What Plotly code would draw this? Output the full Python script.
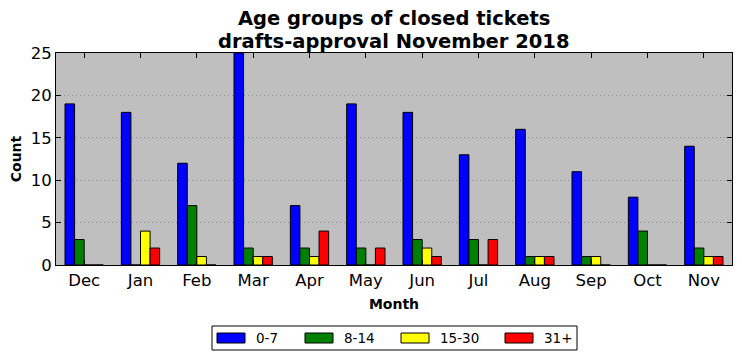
import plotly.graph_objects as go

months = ["Dec", "Jan", "Feb", "Mar", "Apr", "May", "Jun", "Jul", "Aug", "Sep", "Oct", "Nov"]
age_0_7 = [19, 18, 12, 25, 7, 19, 18, 13, 16, 11, 8, 14]
age_8_14 = [3, 0, 7, 2, 2, 2, 3, 3, 1, 1, 4, 2]
age_15_30 = [0, 4, 1, 1, 1, 0, 2, 0, 1, 1, 0, 1]
age_31_plus = [0, 2, 0, 1, 4, 2, 1, 3, 1, 0, 0, 1]

series = [("0-7", age_0_7, "#0000ff"), ("8-14", age_8_14, "#008000"),
          ("15-30", age_15_30, "#ffff00"), ("31+", age_31_plus, "#ff0000")]

font = "DejaVu Sans"
W, H = 742, 361
L, R, T, B = 56, 10, 53, 96
pw, ph = W - L - R, H - T - B

def px(x):
    return (x - L) / pw

def py(y):
    return (H - B - y) / ph

fig = go.Figure()
for name, vals, col in series:
    fig.add_trace(go.Bar(x=months, y=vals, name=name,
                         marker=dict(color=col, line=dict(color="black", width=1))))

shapes = []
annotations = []
# title
annotations.append(dict(text="<b>Age groups of closed tickets</b>", xref="paper", yref="paper",
                        x=0.5 * (px(56) + px(732)), y=py(19), xanchor="center", yanchor="middle",
                        showarrow=False, font=dict(size=19.5, family=font)))
annotations.append(dict(text="<b>drafts-approval November 2018</b>", xref="paper", yref="paper",
                        x=0.5 * (px(56) + px(732)), y=py(41), xanchor="center", yanchor="middle",
                        showarrow=False, font=dict(size=19.5, family=font)))
# custom legend box
shapes.append(dict(type="rect", xref="paper", yref="paper", x0=px(212), x1=px(577),
                   y0=py(350), y1=py(326), line=dict(color="black", width=1), fillcolor="white"))
patch_x = [217, 305, 401, 505]
for (name, vals, col), x0 in zip(series, patch_x):
    shapes.append(dict(type="rect", xref="paper", yref="paper", x0=px(x0), x1=px(x0 + 28),
                       y0=py(343), y1=py(333), line=dict(color="black", width=1), fillcolor=col))
    annotations.append(dict(text=name, xref="paper", yref="paper", x=px(x0 + 37), y=py(338),
                            xanchor="left", yanchor="middle", showarrow=False,
                            font=dict(size=13.5, family=font)))

fig.update_layout(
    width=W, height=H,
    margin=dict(l=L, r=R, t=T, b=B),
    paper_bgcolor="white", plot_bgcolor="#bfbfbf",
    barmode="group", bargap=0.32, bargroupgap=0,
    font=dict(family=font, color="black", size=16),
    showlegend=False,
    shapes=shapes, annotations=annotations,
)
fig.update_xaxes(
    range=[-0.5, 11.5], showline=True, linecolor="black", linewidth=1, mirror="ticks",
    ticks="inside", ticklen=5, tickcolor="black", showgrid=False, automargin=False,
    title=dict(text="<b>Month</b>", font=dict(size=14, family=font), standoff=10),
    tickfont=dict(size=16.5),
)
fig.update_yaxes(
    range=[0, 25], dtick=5, showline=True, linecolor="black", linewidth=1, mirror="ticks",
    ticks="inside", ticklen=5, tickcolor="black", automargin=False,
    showgrid=True, gridcolor="#8c8c8c", griddash="1px,3px", gridwidth=1, zeroline=False,
    title=dict(text="<b>Count</b>", font=dict(size=14, family=font), standoff=5),
    tickfont=dict(size=16.5),
)
fig.write_html("out.html", config={"displayModeBar": False},
               post_script="document.body.style.margin='0';document.body.style.overflow='hidden';")
